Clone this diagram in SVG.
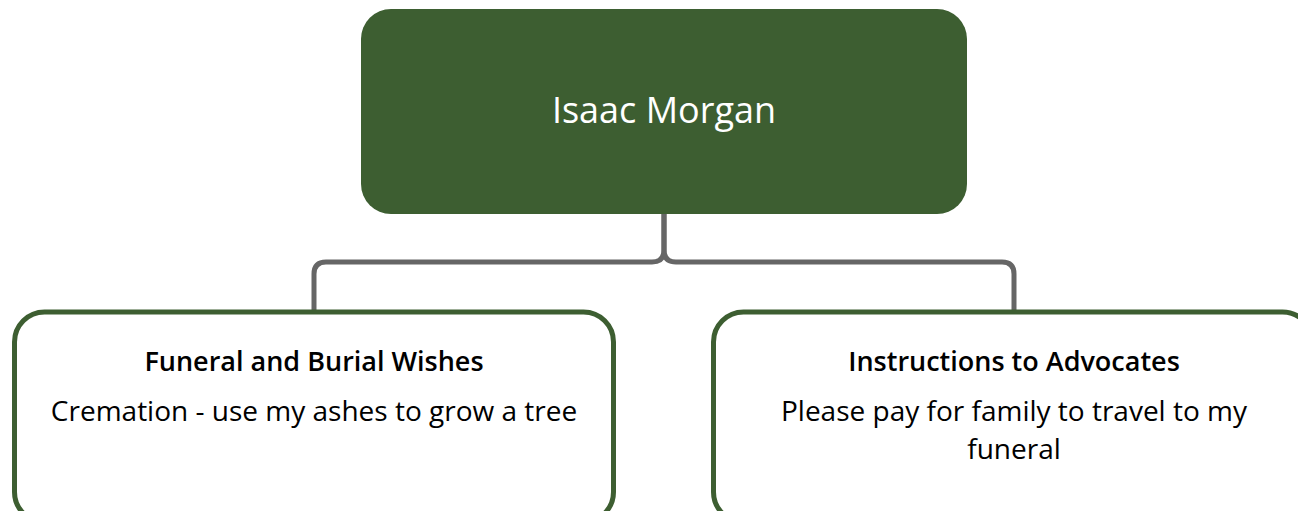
<svg xmlns="http://www.w3.org/2000/svg" width="1298" height="511" viewBox="0 0 1298 511">
<style>
.root{fill:#3d5e31}
.child{fill:#ffffff;stroke:#3d5e31;stroke-width:5}
.conn{fill:none;stroke:#666666;stroke-width:5}
.t{font-family:"Open Sans","Noto Sans",sans-serif;text-anchor:middle}
.rt{fill:#ffffff;font-size:36px;font-weight:500}
.ct{fill:#000000;font-size:27px;font-weight:600}
.cb{fill:#000000;font-size:28px}
</style>
<rect width="1298" height="511" fill="#ffffff"/>
<g id="connectors">
<path class="conn" d="M664,214 V250 Q664,262 652,262 H326 Q314,262 314,274 V312"/>
<path class="conn" d="M664,214 V250 Q664,262 676,262 H1002 Q1014,262 1014,274 V312"/>
</g>
<g id="root">
<rect class="root" x="361" y="9" width="606" height="205" rx="30"/>
<text class="t rt" x="664" y="123">Isaac Morgan</text>
</g>
<g id="funeral">
<rect class="child" x="14.5" y="312" width="599" height="210" rx="30"/>
<text class="t ct" x="314" y="371">Funeral and Burial Wishes</text>
<text class="t cb" x="314" y="421">Cremation - use my ashes to grow a tree</text>
</g>
<g id="instructions">
<rect class="child" x="713.5" y="312" width="599" height="210" rx="30"/>
<text class="t ct" x="1014" y="371">Instructions to Advocates</text>
<text class="t cb" x="1014" y="421">Please pay for family to travel to my</text>
<text class="t cb" x="1014" y="459">funeral</text>
</g>
</svg>
